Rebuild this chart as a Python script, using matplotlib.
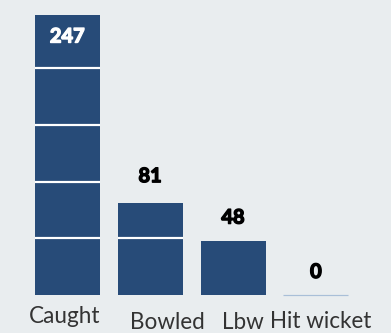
import matplotlib
matplotlib.use("Agg")
import matplotlib.pyplot as plt
import matplotlib.patheffects as pe

categories = ["Caught", "Bowled", "Lbw", "Hit wicket"]
values = [247, 81, 48, 0]
grid_values = [50, 100, 150, 200]

BG = "#e9edef"
BAR = "#274b78"

plt.rcParams['font.family'] = ['Lato', 'DejaVu Sans']

fig = plt.figure(figsize=(391/72, 333/72), dpi=72, facecolor=BG)
ax = fig.add_axes([0, 0, 1, 1])
ax.set_facecolor(BG)

step = 82.9
x0 = 67.2
ax.set_xlim(-x0/step, (391 - x0)/step)
ppu = 280/247.0
ax.set_ylim(-(333-295)/ppu, 295/ppu)

w = 65/step
xs = list(range(len(categories)))
for x, v in zip(xs, values):
    if v > 0:
        ax.bar(x, v, width=w, color=BAR, zorder=2)
        for g in grid_values:
            if g < v:
                ax.hlines(g, x - w/2, x + w/2, color="white", lw=2.2, zorder=3)
    else:
        ax.hlines(0, x - w/2, x + w/2, color="#a9bfd8", lw=1.2, zorder=2)

# value labels
for x, v in zip(xs, values):
    col = "white" if v > 200 else "black"
    off = -21.5 if v > 200 else (27 if v == 81 else 23)
    ax.annotate(str(v), (x, v), xytext=(0, off), textcoords="offset points",
                ha="center", va="center", color=col, fontsize=20,
                fontweight="bold", zorder=4,
                path_effects=[pe.withStroke(linewidth=1.4, foreground=col)])

# category labels (staggered as in reference)
label_dx = [-2.5, 17.5, 9.5, 5.0]
label_dy = [-28.3, -34.3, -34.0, -33.3]
for x, c, dx, dy in zip(xs, categories, label_dx, label_dy):
    ax.annotate(c, (x, 0), xytext=(dx, dy), textcoords="offset points",
                ha="center", va="baseline", color="#333333", fontsize=22.5)

ax.axis("off")
fig.savefig("out.png", dpi=72, facecolor=BG)
